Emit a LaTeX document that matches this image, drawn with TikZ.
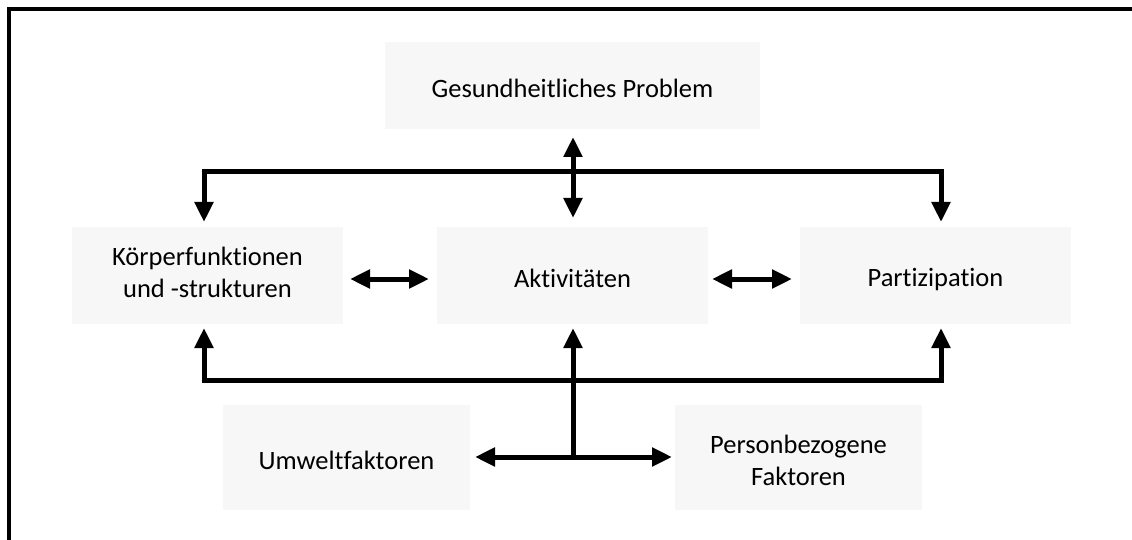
\documentclass[tikz,border=0pt]{standalone}
\usepackage{fontspec}
\setmainfont{Carlito}[Ligatures=NoCommon]
\usetikzlibrary{arrows.meta}
\definecolor{boxgray}{HTML}{F7F7F7}
\newcommand\lowstrut{\rule[-2pt]{0pt}{28.8pt}}
\tikzset{
  box/.style={fill=boxgray, draw=none, inner sep=0pt, align=center,
    font=\fontsize{26.5}{32}\selectfont, text=black},
  conn/.style={line width=5pt, -{Triangle[width=18pt,length=20pt]}},
  dconn/.style={line width=5pt, {Triangle[width=18pt,length=20pt]}-{Triangle[width=18pt,length=20pt]}},
}
\begin{document}
\begin{tikzpicture}[x=1pt,y=-1pt]
\useasboundingbox (0,0) rectangle (1132,540);
% frame (only top and left visible)
\draw[line width=4pt] (9,560) -- (9,9) -- (1150,9);
% boxes
\node[box, minimum width=375pt, minimum height=87pt] (gp) at (572.5,85.5) {Gesundheitliches Problem\lowstrut};
\node[box, minimum width=271pt, minimum height=97pt] (kf) at (207.5,275.5) {Körperfunktionen\strut\\und -strukturen\strut};
\node[box, minimum width=271pt, minimum height=97pt] (ak) at (572.5,275.5) {Aktivitäten\lowstrut};
\node[box, minimum width=271pt, minimum height=97pt] (pa) at (935.5,275.5) {Partizipation\lowstrut};
\node[box, minimum width=247pt, minimum height=105pt] (uf) at (346.5,457.5) {Umweltfaktoren\lowstrut};
\node[box, minimum width=247pt, minimum height=105pt] (pf) at (798.5,457.5) {Personbezogene\lowstrut\\Faktoren\lowstrut};
% coordinates
\coordinate (tm) at (573,172);
\coordinate (tl) at (204,172);
\coordinate (tr) at (941,172);
\coordinate (tla) at (204,222);
\coordinate (tra) at (941,222);
\coordinate (bm) at (573,380);
\coordinate (bl) at (204,380);
\coordinate (br) at (941,380);
\coordinate (bla) at (204,328);
\coordinate (bra) at (941,328);
\coordinate (aka) at (573,328);
\coordinate (hub) at (573,457);
\coordinate (ufa) at (475,457);
\coordinate (pfa) at (672,457);
\coordinate (gpa) at (573,137);
\coordinate (gpb) at (573,218);
\coordinate (kfa) at (350,279);
\coordinate (kfb) at (429,279);
\coordinate (paa) at (712,279);
\coordinate (pab) at (792,279);
% top connector
\draw[conn] (tm) -- (tl) -- (tla);
\draw[conn] (tm) -- (tr) -- (tra);
\draw[dconn] (gpa) -- (gpb);
% side double arrows
\draw[dconn] (kfa) -- (kfb);
\draw[dconn] (paa) -- (pab);
% bottom connector
\draw[conn] (bm) -- (bl) -- (bla);
\draw[conn] (bm) -- (br) -- (bra);
\draw[conn] (hub) -- (aka);
\draw[dconn] (ufa) -- (pfa);
\end{tikzpicture}
\end{document}
